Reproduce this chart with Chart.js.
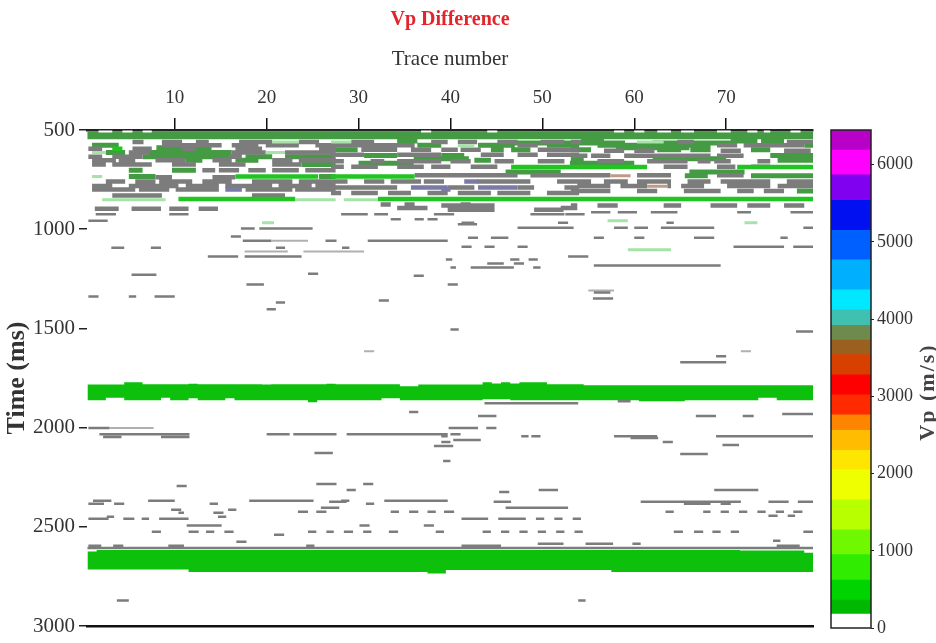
<!DOCTYPE html>
<html lang="en">
<head>
<meta charset="UTF-8">
<title>Vp Difference</title>
<script src="https://cdn.jsdelivr.net/npm/chart.js"></script>
<style>
  html,body{margin:0;padding:0;background:#fff}
  #wrap{position:relative;width:936px;height:643px}
  #main{position:absolute;left:0;top:0}
  #cbar{position:absolute;left:820px;top:0}
</style>
</head>
<body>
<div id="wrap">
  <canvas id="main" width="936" height="643"></canvas>
  <canvas id="cbar" width="116" height="643"></canvas>
</div>
<script>
// axes
const traceTicks = [10, 20, 30, 40, 50, 60, 70];
const timeTicks = [500, 1000, 1500, 2000, 2500, 3000];
const vpTicks = [0, 1000, 2000, 3000, 4000, 5000, 6000];

// colour bar (m/s) and its colours
const cbarLevels = [0, 180, 360, 620, 950, 1270, 1660, 2050, 2300, 2560, 2760, 3020, 3280, 3540, 3730, 3920, 4120, 4380, 4770, 5150, 5540, 5870, 6190, 6450];
const cbarColors = ['#ffffff', '#00b800', '#00d400', '#30ec00', '#70f800', '#b8ff00', '#f0ff00', '#ffe600', '#ffbc00', '#ff8400', '#ff2a00', '#ff0000', '#d84000', '#9a6020', '#6e8a4c', '#40c0b0', '#00e8ff', '#00b0ff', '#0060ff', '#0010f0', '#8000f0', '#ff00ff', '#b800c8'];

// two strong low-velocity layers: top / bottom time (ms) for traces 1..79
const band1Top = [
  1783,1783,1783,1783,1771,1771,1781,1781,1781,1781,
  1781,1779,1781,1781,1781,1781,1781,1781,1781,1783,
  1781,1781,1781,1781,1781,1781,1779,1781,1781,1781,
  1781,1781,1781,1781,1792,1792,1783,1783,1783,1783,
  1783,1783,1783,1771,1778,1771,1778,1771,1771,1771,
  1781,1781,1781,1781,1786,1786,1786,1786,1786,1786,
  1786,1786,1786,1786,1786,1786,1786,1786,1786,1786,
  1786,1786,1786,1786,1786,1786,1786,1786,1786];
const band1Bottom = [
  1862,1862,1850,1850,1862,1862,1862,1862,1850,1862,
  1862,1852,1862,1862,1862,1852,1862,1862,1862,1862,
  1862,1862,1862,1862,1872,1862,1862,1862,1862,1862,
  1862,1862,1852,1852,1862,1862,1862,1862,1862,1862,
  1862,1862,1862,1857,1857,1857,1862,1862,1862,1862,
  1862,1862,1862,1862,1862,1862,1862,1862,1862,1862,
  1867,1867,1867,1867,1867,1862,1862,1862,1862,1862,
  1862,1862,1862,1850,1850,1862,1862,1862,1862];
const band2Top = [
  2625,2617,2617,2617,2617,2617,2617,2617,2617,2617,
  2617,2617,2617,2617,2617,2617,2617,2617,2617,2617,
  2617,2617,2617,2617,2617,2617,2617,2617,2617,2617,
  2617,2617,2617,2617,2617,2617,2617,2617,2617,2617,
  2617,2617,2617,2617,2617,2617,2617,2617,2617,2617,
  2617,2617,2617,2617,2617,2617,2617,2617,2617,2617,
  2617,2617,2617,2617,2617,2617,2617,2617,2617,2617,
  2617,2620,2620,2620,2620,2620,2620,2620,2631];
const band2Bottom = [
  2715,2715,2715,2715,2715,2715,2715,2715,2715,2715,
  2715,2728,2728,2728,2728,2728,2728,2728,2728,2728,
  2728,2728,2728,2728,2728,2728,2728,2728,2728,2728,
  2728,2728,2728,2728,2728,2728,2728,2736,2736,2718,
  2718,2718,2718,2718,2718,2718,2718,2718,2718,2718,
  2718,2718,2718,2718,2718,2718,2718,2728,2728,2728,
  2728,2728,2728,2728,2728,2728,2728,2728,2728,2728,
  2728,2728,2728,2728,2728,2728,2728,2728,2728];

// short segments: [time ms, fromTrace, toTrace, fromTrace, toTrace, ...]
const darkGreenRows = [
  [520, 0.5,79.5],
  [534, 0.5,79.5],
  [555, 34.2,36.4, 54.2,56.7, 70.5,73.4, 73.8,76.3],
  [566, 47,59, 62,71],
  [577, 1,3.9, 36.4,39, 43,47, 50.5,54, 56,63.2, 64,68.3, 78.5,79.5],
  [590, 8,14, 58,66],
  [600, 27,29.9, 44.4,45.8, 46.6,48.7, 53.1,55.3, 62.5,65.1, 66.1,68.3, 72.7,74.8],
  [613, 2.5,4.6, 7.2,16.2],
  [620, 7.2,16.2],
  [628, 30.6,34.2, 39,41.5, 74.8,79.5],
  [635, 6.5,15.9, 17.7,20.6, 22,27.5],
  [645, 36,42, 62,70],
  [652, 11.2,13, 16.6,19.1, 42.6,44.4, 53.1,54.5, 75.6,79.5],
  [668, 30,36, 53,60],
  [674, 23.8,27.5],
  [703, 5,6.5, 9.7,12.3],
  [712, 46,52, 66,72],
  [730, 65.5,68, 72.7,79.5],
  [735, 5,7.9, 25.7,27.5],
  [808, 77.7,79.5]
];
const brightGreenRows = [
  [595, 3.2,4.3],
  [686, 46.6,61.4, 71.2,79.5],
  [735, 16.6,25.6, 27,36.1],
  [848, 10.4,23.1, 32.1,79.5]
];
const lightGreenRows = [
  [560, 20.6,23.5, 27,29.2, 60.3,63.2],
  [580, 40.8,42.6],
  [613, 1,2.5, 19.9,22],
  [735, 1,2.1],
  [852, 2.1,9, 23.1,27.5, 28.4,32.1],
  [957, 57.1,59.3],
  [968, 19.5,20.8, 72,73.4],
  [1103, 59.3,64]
];
const purpleRows = [
  [760, 41.5,43],
  [790, 35.7,39.7, 43,47.3],
  [800, 15.5,17.3, 39,40]
];
const tanRows = [
  [730, 57.4,59.6],
  [783, 61.4,63.6]
];
const whiteRows = [
  [508, 1.7,3.2, 4.3,5.4, 6.5,7.5, 36.8,37.9, 44,45.1, 57.8,58.9, 60,61.1, 62.5,64, 65.1,66.5, 69,70.5, 72.3,73.4, 74.1,74.8, 77,78.1]
];
const lightGrayRows = [
  [1058, 20.5,24.5],
  [1113, 17.6,22.3, 24,30.6],
  [1309, 55,57.8],
  [1615, 30.6,31.7, 71.6,72.7],
  [2002, 2.9,7.7]
];
const grayRows = [
  [560, 5.4,6.6, 8.6,10.8, 12.3,13.7, 17,20.6, 23.5,25.7, 29.2,31.7, 37.9,39.7, 40.8,42.9, 45.1,47.3, 49.8,52.4, 53.1,54.2, 64.7,66.5, 76.6,79.5],
  [577, 8.6,15.1, 16.2,19.1, 19.9,23.5, 25.3,36.1, 47.3,49.5, 69,71.2, 71.9,78.5],
  [595, 0.6,2.1, 5.4,7.5, 10.8,12.3, 16.6,19.5, 25.7,27.5],
  [600, 30.3,34.2, 35.7,37.9, 39,40.8, 41.1,43.3, 49.5,54],
  [605, 56.7,58.9, 60,62.2, 69.4,71.6, 76.3,79.2],
  [613, 5,7.2, 16.2,19.9, 22,27.5],
  [625, 27,30.6, 34.2,39, 43.3,45.8, 47.3,49.5, 50.5,54],
  [630, 53.1,54.9, 55.3,57.4, 58.9,68.3, 69,71.9],
  [635, 0.6,2.1, 3.2,6.5, 15.9,17.3],
  [652, 1,3.6, 3.9,5.7, 7.9,11.2, 14.1,16.2, 20.6,22.8, 23.5,27.5],
  [657, 27,28.4, 31.3,32.8, 34.2,39, 40,42.2, 44.8,46.9, 49.5,52.4, 56,58.9, 61.4,65.8, 66.9,68.3, 68.7,70.5, 73.4,74.8],
  [674, 1,2.5, 3.2,7.5, 9.7,12.3, 14.8,17.7, 20.6,23.8],
  [685, 27,28.4, 29.2,32.1, 34.2,37.1, 37.9,40, 42.2,45.1, 63.2,65.8, 69,71, 72.7,74.8],
  [703, 13,14.4, 14.8,17, 18,19.9, 20.6,23.5, 24.2,27.5],
  [728, 36.1,47.3, 48.7,57.4, 60.3,64, 69,71.9],
  [738, 7.9,9.7, 14.1,16.6],
  [760, 2.5,4.6, 5.7,7.9, 8.3,11.9, 13,16.2, 18.4,22.8, 23.5,28.8, 30.6,32.8, 33.5,36.8, 37.1,39.3, 42.9,48.7, 51.6,55.3, 56.7,59.3, 60.3,64, 65.8,68.3, 69.4,74.8, 76.6,79.5],
  [782, 1,3.2, 5,10.4, 11.2,14.8, 15.5,20.6, 21.3,24.9, 25.3,27.5, 53.8,57.4, 58.5,61.4, 63.6,64, 65.1,67.6, 70.1,74.8, 75.6,79.5],
  [790, 27,34.2, 39.7,42.6, 47.3,49.1, 52.4,54],
  [800, 1,5.7, 6.1,9.4, 10.1,14.8, 17.7,22.8, 23.1,27.5],
  [808, 53.1,57.4, 60.3,62.5, 65.4,69.4, 71.2,73, 74.1,76.3],
  [818, 27,28.1, 29.2,32.1, 33.2,35.7, 37.5,39.7, 40.8,44.4, 45.1,48.7, 50.5,54],
  [830, 3.2,8.6, 18.4,22],
  [875, 32.4,33.5, 35,36.1, 41.1,42.2],
  [880, 39,44.8, 53.1,53.8, 56,58.2, 63.2,65.1, 68.3,71.2, 72.3,74.8, 76.3,78.5],
  [893, 34.2,37.5, 40.8,44, 52,53.8],
  [897, 1.3,3.9, 5.3,8.5, 9.4,11.5, 12.6,14.7],
  [902, 39.7,44.8, 49.1,52.3],
  [915, 55.3,57.4, 58.2,60.3, 61.8,64.7, 71.2,72.7, 77,79.5],
  [925, 1.4,3.6, 9.4,11.5, 28.1,31, 31.7,33.2, 38.2,40.4, 48.7,52.4, 52.5,54.6],
  [950, 33.5,34.6, 36.1,37.1, 37.5,38.6],
  [957, 0.6,2.7],
  [968, 41.2,42.6, 51.7,52.8, 63.5,64.3],
  [975, 40.8,42.9],
  [993, 47.3,53.4, 57.8,59.3, 60,61.5, 62.9,68.7, 78.4,79.5],
  [997, 17.2,18.7, 19.2,25],
  [1037, 16.1,17.2],
  [1043, 41.9,43, 44.4,46.3, 55.6,56.7, 60,61.1, 66.5,68.7, 75.9,76.7],
  [1058, 17.4,20.5, 26.4,27.6, 31,39.7],
  [1088, 41.2,42.3, 43.7,44.8, 47.3,48.4, 70.8,76.3, 77.3,79.5],
  [1093, 3.1,4.5, 7.4,8.5, 21,22, 28.2,29],
  [1138, 13.6,16.9, 17.6,23.8, 52.8,55],
  [1153, 39.5,40.2, 46.5,47.5, 48.5,49.5],
  [1173, 44,45.8, 46.9,48],
  [1183, 55.6,69.4],
  [1193, 40,40.6, 42.2,46.9, 49,49.8],
  [1224, 24.5,25.6],
  [1229, 5.3,8],
  [1234, 36,37.1],
  [1279, 17.8,19.7, 39.7,40.8],
  [1319, 55.6,57.4],
  [1339, 0.6,1.7, 5,5.8, 7.8,10],
  [1349, 55.5,57.7],
  [1359, 32.2,33.3],
  [1369, 21,22],
  [1404, 20,21],
  [1505, 40,40.9],
  [1515, 77.6,79.5],
  [1641, 68.9,70],
  [1671, 65,70],
  [1867, 58.2,59.6],
  [1877, 43.7,53.9],
  [1922, 35.5,36.5],
  [1932, 76.1,79.5],
  [1942, 43,45, 66.7,68.9, 71.8,73],
  [2002, 0.6,2.9, 39.8,43, 43.9,45],
  [2033, 1.8,11.6, 20,22.5, 22.9,27.6, 28.7,39.7, 40,41.1],
  [2043, 39,39.7, 47.7,48.5, 48.8,49.8, 57.8,62.5, 68.9,79.5],
  [2048, 2.2,4.2, 8.5,11.6],
  [2053, 59.6,62.6],
  [2063, 40.3,43.3],
  [2073, 39,40, 63.1,64.2],
  [2088, 69.6,71.4],
  [2093, 38.2,40.3],
  [2128, 25.2,27.2],
  [2133, 65,68],
  [2168, 39.2,40],
  [2284, 25.4,27.6, 30.5,31.6],
  [2294, 10.2,11.3],
  [2314, 28.7,29.7, 49.6,51.7, 68.7,73.5],
  [2324, 45.3,46.4],
  [2369, 1.1,3.1, 7.1,10, 18.1,25.1, 28.1,29, 32.8,39.7],
  [2374, 26.8,28.7, 44.7,46.6, 60.7,71.6, 74.6,76.8, 77.8,79.5],
  [2384, 0.6,2.3, 3.4,4.5, 13.8,14.7, 30.8,31.7, 65.4,68.3, 69.4,70.5],
  [2404, 25.9,27.9, 46,52.8],
  [2414, 9.6,10.7, 15.8,16.7],
  [2424, 23.4,24.5, 25.4,26.5, 33.5,34.4, 35.5,36.5, 37.5,38.4, 39.3,40.4, 63.4,64.3, 67.5,68.3, 69.4,70.3, 71.4,72.3, 73.4,74.3, 75.4,76.3, 77.3,78.3],
  [2429, 10.4,11, 14.2,15.3],
  [2444, 74.6,75.6, 76.7,77.5],
  [2449, 2.6,3.4, 14.7,15.6],
  [2459, 0.6,2.8, 4.4,5.6, 6.4,7.2, 8.3,11.5, 41.2,44.1, 45.2,48.2, 49.3,50.2, 51.3,52.2, 53.3,54.2],
  [2494, 11.3,15.1, 30.1,31.2, 37.1,38.2],
  [2525, 7.5,8.5, 11.5,12.6, 13.4,14.3, 15.4,16.4, 24.5,25.4, 26.5,27.3, 28.4,29.4, 30.5,31.4, 33.3,34.3, 38.4,39.3, 43.5,44.4, 45.5,46.4, 47.5,48.4, 49.5,50.4, 51.5,52.4, 53.5,54.4, 64.3,65.3, 66.5,67.5, 68.5,69.4, 70.5,71.4, 78.4,79.5],
  [2540, 20.8,21.9],
  [2570, 75.1,75.9],
  [2575, 16.7,17.8],
  [2585, 49.5,52.3, 54.7,57.7, 59.8,60.7],
  [2595, 0.6,2, 3.3,4.4, 9.3,11, 24.3,25.2, 41.2,45.5, 75.5,78],
  [2607, 0.5,79.5],
  [2872, 3.7,5, 53.9,54.7]
];

function rowPoints(rows) {
  const pts = [];
  rows.forEach(([t, ...r]) => {
    for (let i = 0; i < r.length; i += 2) {
      pts.push({x: r[i], y: t}, {x: r[i + 1], y: t}, {x: r[i + 1], y: null});
    }
  });
  return pts;
}
const dense = rows => rows.filter(r => r[0] < 910);
const sparse = rows => rows.filter(r => r[0] >= 910);

function segSet(rows, color, width) {
  return {data: rowPoints(rows), showLine: true, borderColor: color, borderWidth: width,
    borderCapStyle: 'butt', pointRadius: 0, spanGaps: false, fill: false};
}
function bandPoints(vals) {
  const pts = vals.map((v, i) => ({x: i + 0.5, y: v}));
  pts.push({x: vals.length + 0.5, y: vals[vals.length - 1]});
  return pts;
}
function bandEdge(vals, fillColor) {
  return {data: bandPoints(vals), showLine: true, stepped: true, borderWidth: 0, pointRadius: 0,
    backgroundColor: fillColor, fill: fillColor ? '-1' : false};
}

const serif = 'Liberation Serif';
const bandGreen = '#0cc00c';
const plain = v => String(v);

new Chart(document.getElementById('main'), {
  type: 'scatter',
  data: {
    datasets: [
      segSet(whiteRows, '#ffffff', 2),
      segSet(brightGreenRows, '#22c422', 4.5),
      segSet(lightGreenRows, '#a6e3a6', 3),
      segSet(purpleRows, '#7a7aa6', 4.5),
      segSet(tanRows, '#c09a86', 3),
      segSet(dense(grayRows), '#7c7c7c', 4.5),
      segSet(sparse(grayRows), '#7c7c7c', 2.5),
      segSet(lightGrayRows, '#b0b0b0', 2),
      segSet(darkGreenRows, '#449b44', 5),
      bandEdge(band1Top, null),
      bandEdge(band1Bottom, bandGreen),
      bandEdge(band2Top, null),
      bandEdge(band2Bottom, bandGreen)
    ]
  },
  options: {
    responsive: false,
    animation: false,
    layout: {padding: {left: 0, right: 123, top: 0, bottom: 0}},
    plugins: {
      legend: {display: false},
      tooltip: {enabled: false},
      title: {display: true, text: 'Vp Difference', fullSize: false, color: '#e3242b',
        font: {family: serif, size: 20, weight: 'bold'}, padding: {top: 8, bottom: 8}}
    },
    scales: {
      x: {
        type: 'linear', position: 'top', min: 0.45, max: 79.45,
        afterBuildTicks: s => { s.ticks = traceTicks.map(v => ({value: v})); },
        afterFit: s => { s.height = 90; },
        ticks: {color: '#333', font: {family: serif, size: 19}, padding: 9, maxRotation: 0, callback: plain},
        grid: {drawOnChartArea: false, tickLength: 12, color: '#111', lineWidth: 1.5},
        border: {display: true, color: '#222', width: 2.5},
        title: {display: true, text: 'Trace number', color: '#333', font: {family: serif, size: 21}, padding: {top: 7, bottom: 0}}
      },
      xb: {
        type: 'linear', position: 'bottom', min: 0.45, max: 79.45,
        afterFit: s => { s.height = 17; },
        ticks: {display: false},
        grid: {drawOnChartArea: false, drawTicks: false},
        border: {display: true, color: '#111', width: 2.5}
      },
      y: {
        type: 'linear', reverse: true, min: 500, max: 3000,
        afterBuildTicks: s => { s.ticks = timeTicks.map(v => ({value: v})); },
        afterFit: s => { s.width = 87; },
        ticks: {color: '#333', font: {family: serif, size: 21}, padding: 4, callback: plain},
        grid: {drawOnChartArea: false, tickLength: 8, color: '#222', lineWidth: 1.5},
        border: {display: false},
        title: {display: true, text: 'Time (ms)', color: '#333', font: {family: serif, size: 26, weight: 'bold'}, padding: {top: 2, bottom: 0}}
      }
    }
  }
});

// colour bar
const frameBox = {
  id: 'frameBox',
  afterDatasetsDraw(c) {
    const {ctx, chartArea: a} = c;
    ctx.save();
    ctx.strokeStyle = '#222';
    ctx.lineWidth = 1.5;
    ctx.strokeRect(a.left, a.top, a.right - a.left, a.bottom - a.top);
    ctx.restore();
  }
};
const vpTitle = {
  id: 'vpTitle',
  afterDraw(c) {
    const ctx = c.ctx;
    ctx.save();
    ctx.translate(108, 392);
    ctx.rotate(-Math.PI / 2);
    ctx.font = 'bold 22px "Liberation Serif"';
    ctx.fillStyle = '#444';
    ctx.textAlign = 'center';
    ctx.textBaseline = 'middle';
    ctx.letterSpacing = '2px';
    ctx.fillText('Vp (m/s)', 0, 0);
    ctx.restore();
  }
};

new Chart(document.getElementById('cbar'), {
  type: 'bar',
  data: {
    labels: ['Vp'],
    datasets: cbarColors.map((c, i) => ({
      data: [[cbarLevels[i], cbarLevels[i + 1]]], backgroundColor: c, borderWidth: 0,
      barPercentage: 1, categoryPercentage: 1, grouped: false
    }))
  },
  options: {
    responsive: false,
    animation: false,
    layout: {padding: {left: 11, top: 130, bottom: 15, right: 0}},
    plugins: {legend: {display: false}, tooltip: {enabled: false}},
    scales: {
      x: {display: false},
      y: {
        position: 'right', min: 0, max: 6450,
        afterBuildTicks: s => { s.ticks = vpTicks.map(v => ({value: v})); },
        afterFit: s => { s.width = 65; },
        ticks: {color: '#333', font: {family: serif, size: 18}, padding: 3, callback: plain},
        grid: {drawOnChartArea: false, tickLength: 3, color: '#222'},
        border: {display: false}
      }
    }
  },
  plugins: [frameBox, vpTitle]
});
</script>
</body>
</html>
